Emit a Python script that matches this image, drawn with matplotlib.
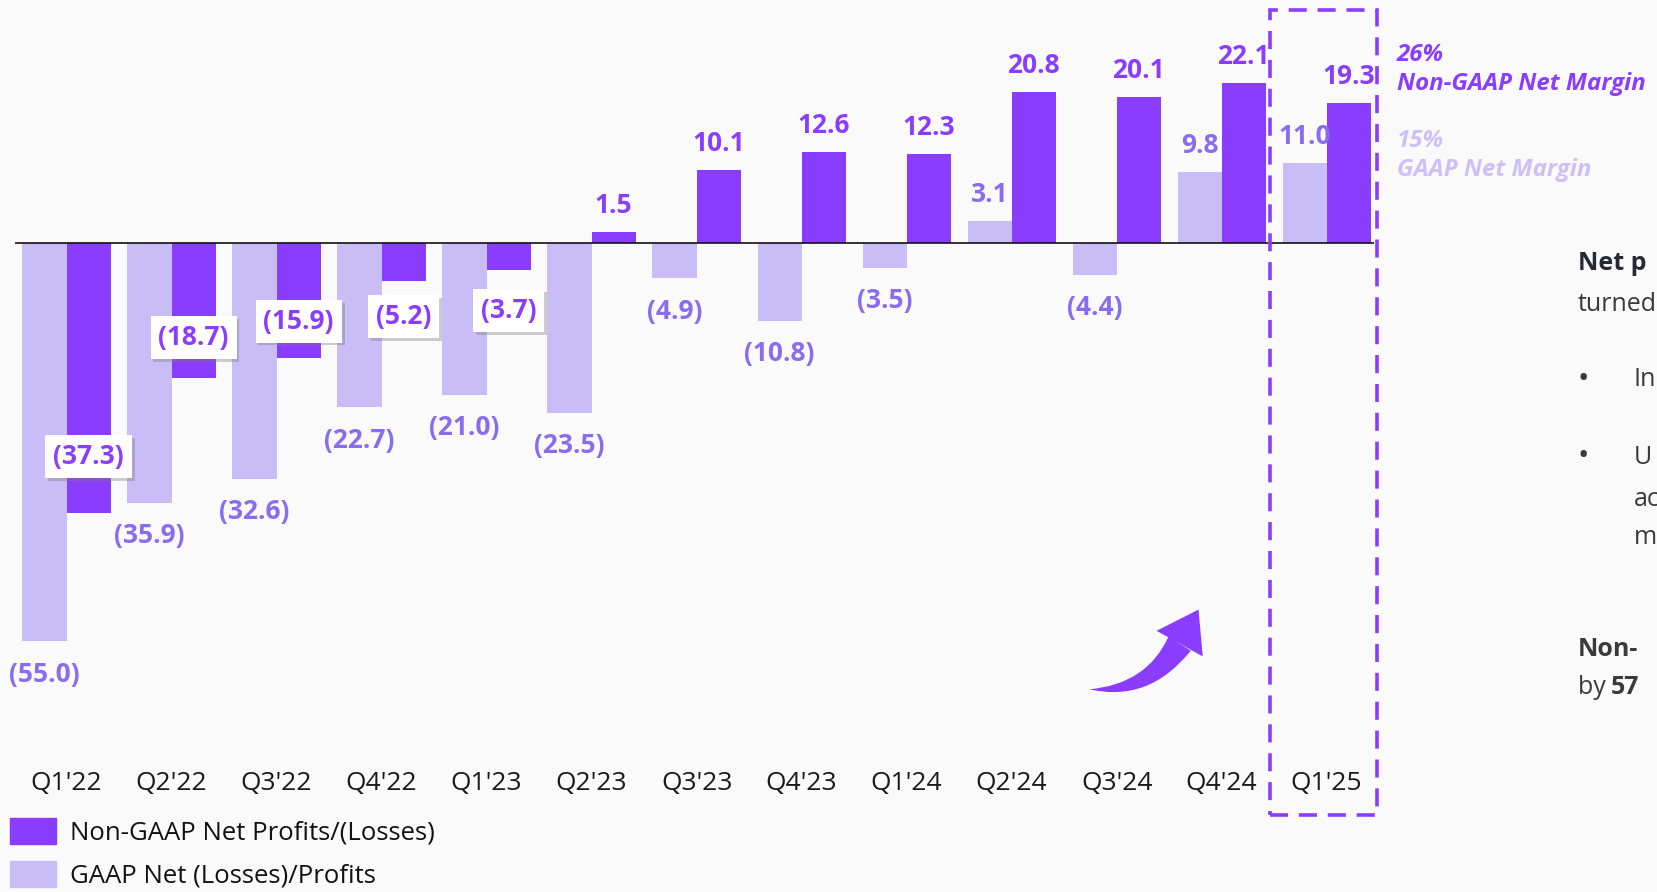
import matplotlib.pyplot as plt
import matplotlib.patheffects as pe
from matplotlib.patches import Rectangle, FancyArrowPatch, Patch

plt.rcParams['font.family'] = ['Open Sans', 'DejaVu Sans']

quarters = ["Q1'22", "Q2'22", "Q3'22", "Q4'22", "Q1'23", "Q2'23", "Q3'23",
            "Q4'23", "Q1'24", "Q2'24", "Q3'24", "Q4'24", "Q1'25"]
non_gaap = [-37.3, -18.7, -15.9, -5.2, -3.7, 1.5, 10.1, 12.6, 12.3, 20.8, 20.1, 22.1, 19.3]
gaap = [-55.0, -35.9, -32.6, -22.7, -21.0, -23.5, -4.9, -10.8, -3.5, 3.1, -4.4, 9.8, 11.0]
# where the boxed non-GAAP loss labels sit
loss_box_y = [-29.5, -13.1, -10.8, -10.2, -9.35]

PURPLE = '#8B3DFF'
LAVENDER = '#C9BDF7'
GAAP_TXT = '#8A6CEF'
BG = '#FAFAFA'

fig = plt.figure(figsize=(16.57, 8.92), dpi=100, facecolor=BG)
ax = fig.add_axes([15 / 1657, 132 / 892, 1359 / 1657, 760 / 892])
ax.set_facecolor(BG)

x = list(range(len(quarters)))
w = 0.42
ax.bar([i - w / 2 for i in x], gaap, width=w, color=LAVENDER, zorder=2)
ax.bar([i + w / 2 for i in x], non_gaap, width=w, color=PURPLE, zorder=2)
ax.axhline(0, color='#111111', lw=1.2, zorder=3)

ax.set_xlim(-0.491, 12.451)
ax.set_ylim(-71.36, 33.54)
ax.set_yticks([])
ax.set_xticks(x)
ax.set_xticklabels(quarters, fontsize=19, color='#1a1a1a')
ax.tick_params(axis='x', length=0, pad=8)
for s in ax.spines.values():
    s.set_visible(False)

def fmt(v):
    return f'({abs(v):.1f})' if v < 0 else f'{v:.1f}'

lab = dict(fontsize=19, fontweight='bold', ha='center', va='center',
           textcoords='offset points', zorder=5)

# GAAP labels
for i, v in enumerate(gaap):
    off = 19 if v > 0 else -23.5
    ax.annotate(fmt(v), (i - w / 2, v), xytext=(0, off), color=GAAP_TXT, **lab)

# non-GAAP labels
k = 0
for i, v in enumerate(non_gaap):
    if v > 0:
        ax.annotate(fmt(v), (i + w / 2, v), xytext=(0, 19), color=PURPLE, **lab)
    else:
        t = ax.text(i + w / 2, loss_box_y[k], fmt(v), fontsize=19, fontweight='bold',
                    ha='center', va='center', color=PURPLE, zorder=6,
                    bbox=dict(boxstyle='square,pad=0.3', fc='white', ec='none'))
        t.get_bbox_patch().set_path_effects(
            [pe.SimplePatchShadow(offset=(2, -2), shadow_rgbFace='#777777', alpha=0.35),
             pe.Normal()])
        k += 1

# dashed highlight around Q1'25
box = Rectangle((11.46, -78.95), 1.02, 111.15, fill=False, ec=PURPLE, lw=2.6,
                ls=(0, (5, 3)), clip_on=False, zorder=4)
ax.add_patch(box)

# growth arrow: tapered curved body + filled head
head_base = (10.6, -55.3)
tip = (10.78, -50.6)
start = (9.74, -61.6)
body = FancyArrowPatch(head_base, start, connectionstyle='arc3,rad=-0.3',
                       arrowstyle='wedge,tail_width=19,shrink_factor=0.55',
                       mutation_scale=1, color=PURPLE, lw=0, zorder=4,
                       shrinkA=0, shrinkB=0)
head = FancyArrowPatch(head_base, tip, arrowstyle='-|>,head_length=28,head_width=19',
                       mutation_scale=1, color=PURPLE, lw=0, zorder=4,
                       shrinkA=0, shrinkB=0)
ax.add_patch(body)
ax.add_patch(head)

# margin callouts
callout = dict(fontsize=17.3, fontweight='bold', style='italic', va='center')
fig.text(1397 / 1657, 1 - 55 / 892, '26%', color=PURPLE, **callout)
fig.text(1397 / 1657, 1 - 84 / 892, 'Non-GAAP Net Margin', color=PURPLE, **callout)
fig.text(1397 / 1657, 1 - 141 / 892, '15%', color='#CCC0F8', **callout)
fig.text(1397 / 1657, 1 - 170 / 892, 'GAAP Net Margin', color='#CCC0F8', **callout)

# slide text cut off at the right edge
side = dict(fontsize=18, va='center', color='#3a3a3a')
fig.text(1578 / 1657, 1 - 264 / 892, 'Net p', fontweight='bold', **{**side, 'color': '#262a35'})
fig.text(1578 / 1657, 1 - 305 / 892, 'turned', **side)
fig.text(1578 / 1657, 1 - 380 / 892, '•', **{**side, 'fontsize': 22})
fig.text(1634 / 1657, 1 - 380 / 892, 'In', **side)
fig.text(1578 / 1657, 1 - 457 / 892, '•', **{**side, 'fontsize': 22})
fig.text(1634 / 1657, 1 - 457 / 892, 'U', **side)
fig.text(1634 / 1657, 1 - 499 / 892, 'ac', **side)
fig.text(1634 / 1657, 1 - 537 / 892, 'm', **side)
fig.text(1578 / 1657, 1 - 649 / 892, 'Non-', fontweight='bold', **side)
fig.text(1578 / 1657, 1 - 688 / 892, 'by ', **side)
fig.text(1611 / 1657, 1 - 688 / 892, '57', fontweight='bold', **side)

# legend
handles = [Patch(color=PURPLE, label='Non-GAAP Net Profits/(Losses)'),
           Patch(color=LAVENDER, label='GAAP Net (Losses)/Profits')]
fig.legend(handles=handles, loc='upper left', bbox_to_anchor=(9.5 / 1657, 1 - 818 / 892),
           frameon=False, fontsize=18.5, handlelength=1.8, handleheight=1.16,
           handletextpad=0.57, labelspacing=0.62, borderpad=0, borderaxespad=0,
           labelcolor='#111111')

fig.savefig('out.png', dpi=100, facecolor=BG)
